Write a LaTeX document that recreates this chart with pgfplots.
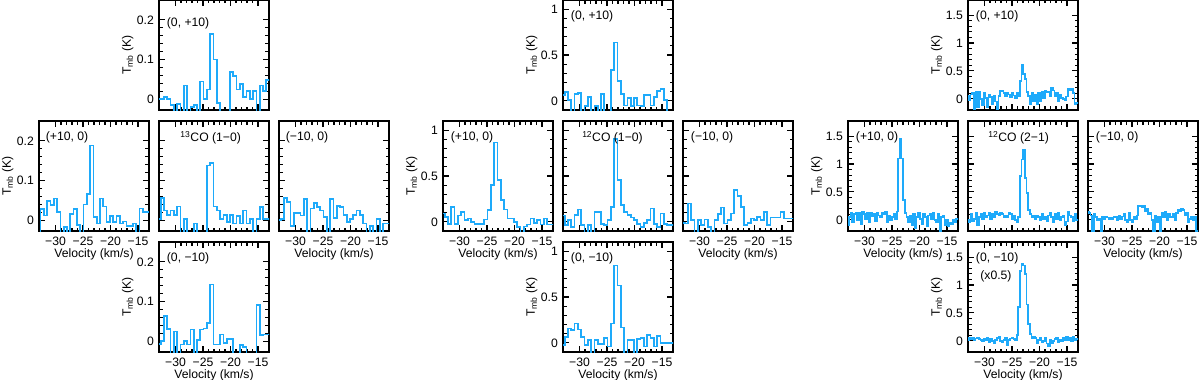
\documentclass[border=0pt]{standalone}
\usepackage{fontspec}
\setmainfont{Liberation Sans}
\usepackage{pgfplots}
\usepackage{pgfplotstable}
\pgfplotsset{compat=1.18}

\definecolor{specblue}{RGB}{30,170,250}

% 13CO(1-0): columns top, left (+10,0), centre, right (-10,0), bottom
\pgfplotstableread{
v t l c r b
-33.0 0.000 -0.040 0.004 0.000 -0.007
-32.4 0.000 0.028 0.056 0.004 0.000
-31.8 0.005 0.012 0.025 0.056 0.063
-31.2 0.000 0.048 0.014 0.046 0.031
-30.6 -0.015 0.038 0.025 -0.014 -0.040
-30.0 -0.040 0.055 0.014 0.018 0.025
-29.4 -0.012 0.020 0.035 0.018 -0.040
-28.8 -0.040 -0.040 -0.040 0.012 -0.008
-28.2 0.035 -0.017 0.004 0.054 0.000
-27.6 -0.040 -0.040 -0.040 -0.040 -0.008
-27.0 -0.020 0.015 -0.040 0.030 0.030
-26.4 -0.015 0.028 -0.008 0.044 -0.040
-25.8 -0.040 -0.012 -0.040 0.033 0.004
-25.2 0.045 -0.040 -0.040 0.025 0.030
-24.6 0.000 0.040 -0.040 0.008 0.032
-24.0 0.025 0.067 0.138 -0.040 0.046
-23.4 0.165 0.188 0.145 0.054 0.143
-22.8 0.100 0.008 0.035 0.006 -0.008
-22.2 -0.010 -0.008 0.025 0.036 -0.008
-21.6 -0.040 0.055 0.004 0.033 0.017
-21.0 -0.040 0.035 0.014 0.014 -0.004
-20.4 -0.040 -0.005 -0.005 -0.004 0.006
-19.8 0.068 0.010 0.014 0.004 0.006
-19.2 0.058 -0.005 -0.008 0.014 -0.040
-18.6 0.025 0.010 0.011 0.025 -0.040
-18.0 0.038 -0.008 -0.008 0.014 -0.010
-17.4 0.005 -0.003 0.025 -0.008 -0.014
-16.8 0.020 -0.015 -0.008 -0.040 -0.040
-16.2 0.000 -0.015 0.004 -0.014 -0.040
-15.6 0.020 -0.008 -0.040 -0.040 -0.040
-15.0 -0.040 -0.040 0.004 0.004 0.092
-14.4 0.035 0.030 0.033 -0.040 0.015
-13.8 0.020 0.020 0.004 -0.008 0.017
-13.2 0.048 0.020 0.004 -0.008 0.017
-12.6 0.048 0.020 0.004 -0.008 0.017
}\tabA

% 12CO(1-0)
\pgfplotstableread{
v t l c r b
-33.0 0.066 0.090 0.070 -0.010 -0.025
-32.4 0.095 0.055 -0.036 -0.018 0.065
-31.8 0.010 -0.020 0.018 0.200 0.156
-31.2 -0.120 0.160 -0.055 0.018 0.140
-30.6 0.073 -0.020 0.073 -0.120 0.210
-30.0 0.084 0.070 0.135 0.018 0.145
-29.4 -0.120 0.110 -0.036 -0.036 0.065
-28.8 -0.060 0.018 -0.120 0.025 -0.025
-28.2 0.040 0.036 -0.036 -0.055 0.030
-27.6 -0.120 0.000 -0.120 -0.120 -0.120
-27.0 -0.060 -0.020 0.110 0.018 0.030
-26.4 -0.120 -0.025 0.110 0.084 -0.010
-25.8 0.073 -0.020 -0.020 0.155 -0.010
-25.2 -0.120 0.025 -0.036 -0.018 0.050
-24.6 -0.120 0.130 0.018 0.018 -0.040
-24.0 0.340 0.400 0.164 0.090 0.210
-23.4 0.635 0.865 0.900 0.345 0.845
-22.8 0.220 0.455 0.455 0.280 0.627
-22.2 0.077 0.240 0.180 0.164 0.167
-21.6 -0.050 0.135 0.110 -0.036 -0.120
-21.0 0.030 0.036 0.073 -0.010 0.030
-20.4 -0.060 0.036 0.047 0.036 0.030
-19.8 0.030 0.000 0.018 0.018 -0.120
-19.2 -0.050 -0.055 -0.020 0.055 0.040
-18.6 -0.060 -0.120 -0.055 0.018 0.050
-18.0 0.066 -0.050 -0.010 0.110 -0.040
-17.4 0.066 -0.030 0.018 -0.036 0.083
-16.8 -0.050 0.036 0.145 0.047 0.050
-16.2 0.040 -0.010 -0.020 0.047 -0.040
-15.6 0.110 0.020 -0.060 0.047 0.072
-15.0 0.130 -0.030 0.090 0.110 0.000
-14.4 0.010 0.036 -0.020 0.036 0.000
-13.8 -0.120 -0.030 -0.036 0.036 0.000
-13.2 -0.120 -0.030 -0.036 0.036 0.000
-12.6 -0.120 -0.030 -0.036 0.036 0.000
}\tabB

% 12CO(2-1), bottom scaled x0.5
\pgfplotstableread{
v t l c r b
-33.0 0.05 -0.10 0.00 0.15 0.02
-32.7 -0.02 0.05 -0.05 0.12 0.05
-32.4 0.08 0.12 0.10 0.08 0.03
-32.1 0.10 -0.05 -0.02 -0.20 0.05
-31.8 -0.18 0.10 0.02 0.10 0.02
-31.5 0.12 0.13 0.12 0.05 0.04
-31.2 -0.15 0.00 -0.10 0.00 0.05
-30.9 0.13 0.12 0.05 0.02 0.03
-30.6 0.00 -0.08 0.10 -0.20 0.02
-30.3 -0.12 0.15 0.02 0.05 0.00
-30.0 0.10 0.10 0.12 0.02 0.04
-29.7 0.02 0.02 0.05 0.05 0.02
-29.4 -0.15 0.13 0.08 0.04 0.05
-29.1 0.08 -0.05 0.12 0.02 -0.02
-28.8 0.03 0.12 0.02 0.03 0.03
-28.5 -0.10 0.06 0.10 0.02 0.00
-28.2 0.05 0.10 0.05 0.05 -0.05
-27.9 -0.05 -0.02 0.15 0.05 0.02
-27.6 -0.20 0.12 0.10 0.00 0.05
-27.3 0.05 0.08 0.08 0.08 0.08
-27.0 0.15 0.05 0.12 0.02 0.00
-26.7 0.14 0.12 0.10 0.06 -0.03
-26.4 0.10 0.10 0.05 0.10 0.02
-26.1 0.05 0.15 0.08 0.00 0.05
-25.8 0.10 -0.05 0.05 -0.05 -0.08
-25.5 0.08 0.08 0.12 0.12 0.02
-25.2 0.03 0.00 0.10 0.00 0.04
-24.9 0.10 0.05 0.02 -0.05 0.05
-24.6 0.06 0.10 0.08 0.05 0.03
-24.3 0.02 0.02 0.00 0.02 0.02
-24.0 0.10 0.15 -0.05 0.08 0.10
-23.7 0.05 1.10 0.05 0.25 0.60
-23.4 0.32 1.45 0.78 0.25 1.25
-23.1 0.60 1.10 1.08 0.22 1.37
-22.8 0.45 0.35 1.25 0.25 1.35
-22.5 0.35 0.12 0.75 0.15 1.20
-22.2 0.12 0.05 0.48 0.20 0.65
-21.9 0.05 -0.05 0.18 0.10 0.30
-21.6 -0.10 0.08 0.10 0.12 0.12
-21.3 0.10 -0.10 0.05 0.00 0.05
-21.0 -0.05 0.10 0.08 -0.20 0.08
-20.7 0.08 -0.15 0.02 0.08 0.05
-20.4 -0.10 0.05 0.08 -0.05 -0.05
-20.1 0.10 0.12 0.05 0.05 0.02
-19.8 -0.05 0.02 0.00 -0.20 0.05
-19.5 0.12 -0.08 0.10 0.12 -0.03
-19.2 0.02 0.10 0.02 0.05 0.00
-18.9 0.15 0.05 0.05 0.15 0.05
-18.6 0.12 -0.12 -0.02 0.00 -0.05
-18.3 0.13 0.08 0.08 0.10 -0.10
-18.0 0.05 0.10 0.12 0.05 0.02
-17.7 0.20 0.02 0.05 0.05 -0.05
-17.4 0.15 0.12 -0.05 0.10 0.00
-17.1 0.05 0.00 0.10 0.00 0.03
-16.8 0.10 -0.05 0.02 0.12 0.05
-16.5 -0.05 0.10 0.12 0.18 -0.02
-16.2 0.08 -0.20 0.00 0.15 0.02
-15.9 0.02 0.05 0.05 0.20 0.00
-15.6 0.00 0.08 0.08 0.18 0.05
-15.3 -0.02 -0.10 -0.10 0.08 0.02
-15.0 0.04 0.00 -0.03 0.12 0.08
-14.7 0.18 -0.12 0.15 -0.05 0.02
-14.4 0.15 -0.05 0.08 0.02 0.05
-14.1 0.17 -0.08 0.05 0.05 0.00
-13.8 0.10 0.00 -0.02 0.00 0.08
-13.5 -0.10 -0.05 0.10 0.05 0.02
-13.2 -0.08 0.02 0.00 -0.20 0.03
-12.9 -0.08 0.02 0.00 -0.20 0.03
}\tabC

\pgfplotsset{
  spec/.style={
    scale only axis, width=110pt, height=110pt, anchor=north west,
    xmin=-33, xmax=-13,
    xtick={-30,-25,-20,-15}, minor x tick num=4,
    tick align=inside, major tick length=6pt, minor tick length=3.5pt,
    axis line style={black, line width=1.5pt},
    tick style={black, line width=1.1pt},
    xticklabel style={anchor=center, inner sep=0pt, yshift=-10.5pt},
    yticklabel style={anchor=east, inner sep=0pt, xshift=-5pt},
    xlabel style={at={(axis description cs:0.5,-0.212)}, anchor=center, inner sep=0pt},
    ylabel style={at={(axis description cs:-0.285,0.5)}, anchor=center},
  },
  xl/.style={xticklabels={−30,−25,−20,−15}, xlabel={Velocity (km/s)}},
  xn/.style={xticklabels={}},
  yl/.style={ylabel={T\textsubscript{mb} (K)}},
  yn/.style={yticklabels={}},
  g1/.style={ymin=-0.027, ymax=0.25, ytick={0,0.1,0.2},
    yticklabels={0\hspace{9pt},0.1,0.2}, minor y tick num=4},
  g2/.style={ymin=-0.1, ymax=1.1, ytick={0,0.5,1},
    yticklabels={0\hspace{8pt},0.5,1}, minor y tick num=4},
  g3/.style={ymin=-0.2, ymax=1.77, ytick={0,0.5,1,1.5},
    yticklabels={0\hspace{4pt},0.5,1,1.5}, minor y tick num=4},
  sp/.style={const plot mark mid, no marks, color=specblue, line width=1.7pt},
}

\begin{document}
\begin{tikzpicture}[font=\fontsize{12.2}{14}\selectfont]
\useasboundingbox (0,0) rectangle (1200pt,-380pt);

% ---- 13CO (1-0)
\begin{axis}[spec, g1, xn, yl, at={(159pt,0pt)}]
\addplot[sp] table[x=v,y=t] {\tabA};
\node[anchor=west] at (rel axis cs:0.04,0.79) {(0, +10)};
\end{axis}
\begin{axis}[spec, g1, xl, yl, at={(39pt,-121pt)}]
\addplot[sp] table[x=v,y=l] {\tabA};
\node[anchor=west] at (rel axis cs:0.03,0.85) {(+10, 0)};
\end{axis}
\begin{axis}[spec, g1, xn, yn, at={(159pt,-121pt)}]
\addplot[sp] table[x=v,y=c] {\tabA};
\node at (rel axis cs:0.47,0.85) {\textsuperscript{13}CO (1−0)};
\end{axis}
\begin{axis}[spec, g1, xl, yn, at={(279pt,-121pt)}]
\addplot[sp] table[x=v,y=r] {\tabA};
\node[anchor=west] at (rel axis cs:0.03,0.85) {(−10, 0)};
\end{axis}
\begin{axis}[spec, g1, xl, yl, at={(159pt,-242pt)}]
\addplot[sp] table[x=v,y=b] {\tabA};
\node[anchor=west] at (rel axis cs:0.04,0.85) {(0, −10)};
\end{axis}

% ---- 12CO (1-0)
\begin{axis}[spec, g2, xn, yl, at={(563pt,0pt)}]
\addplot[sp] table[x=v,y=t] {\tabB};
\node[anchor=west] at (rel axis cs:0.04,0.85) {(0, +10)};
\end{axis}
\begin{axis}[spec, g2, xl, yl, at={(443pt,-121pt)}]
\addplot[sp] table[x=v,y=l] {\tabB};
\node[anchor=west] at (rel axis cs:0.04,0.85) {(+10, 0)};
\end{axis}
\begin{axis}[spec, g2, xn, yn, at={(563pt,-121pt)}]
\addplot[sp] table[x=v,y=c] {\tabB};
\node at (rel axis cs:0.45,0.85) {\textsuperscript{12}CO (1−0)};
\end{axis}
\begin{axis}[spec, g2, xl, yn, at={(683pt,-121pt)}]
\addplot[sp] table[x=v,y=r] {\tabB};
\node[anchor=west] at (rel axis cs:0.04,0.85) {(−10, 0)};
\end{axis}
\begin{axis}[spec, g2, xl, yl, at={(563pt,-242pt)}]
\addplot[sp] table[x=v,y=b] {\tabB};
\node[anchor=west] at (rel axis cs:0.04,0.85) {(0, −10)};
\end{axis}

% ---- 12CO (2-1)
\begin{axis}[spec, g3, xn, yl, at={(968pt,0pt)}]
\addplot[sp] table[x=v,y=t] {\tabC};
\node[anchor=west] at (rel axis cs:0.04,0.85) {(0, +10)};
\end{axis}
\begin{axis}[spec, g3, xl, yl, at={(848pt,-121pt)}]
\addplot[sp] table[x=v,y=l] {\tabC};
\node[anchor=west] at (rel axis cs:0.04,0.85) {(+10, 0)};
\end{axis}
\begin{axis}[spec, g3, xn, yn, at={(968pt,-121pt)}]
\addplot[sp] table[x=v,y=c] {\tabC};
\node at (rel axis cs:0.46,0.85) {\textsuperscript{12}CO (2−1)};
\end{axis}
\begin{axis}[spec, g3, xl, yn, at={(1088pt,-121pt)}]
\addplot[sp] table[x=v,y=r] {\tabC};
\node[anchor=west] at (rel axis cs:0.04,0.85) {(−10, 0)};
\end{axis}
\begin{axis}[spec, g3, xl, yl, at={(968pt,-242pt)}]
\addplot[sp] table[x=v,y=b] {\tabC};
\node[anchor=west] at (rel axis cs:0.04,0.85) {(0, −10)};
\node[anchor=west] at (rel axis cs:0.08,0.69) {(x0.5)};
\end{axis}
\end{tikzpicture}
\end{document}
